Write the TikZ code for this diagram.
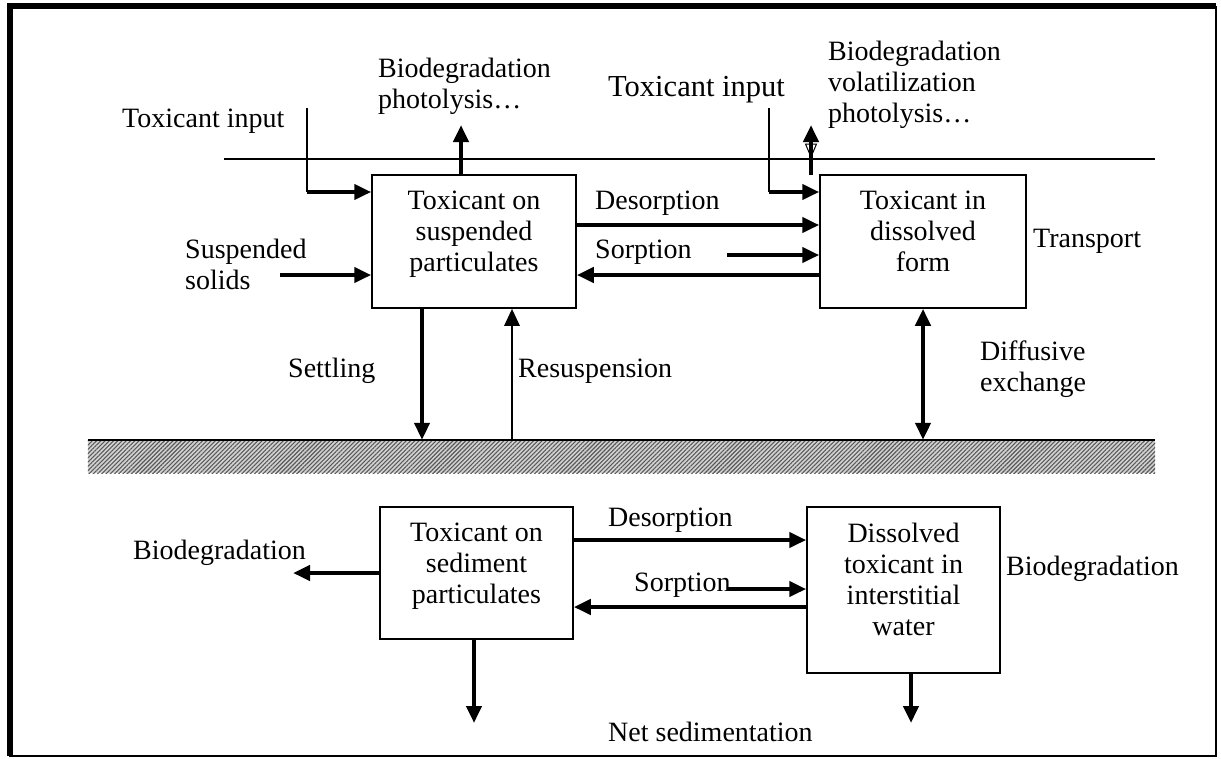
\documentclass[tikz,border=0pt]{standalone}
\usepackage{fontspec}
\setmainfont{Liberation Serif}
\usetikzlibrary{arrows.meta,patterns.meta}
\begin{document}
\begin{tikzpicture}[x=1pt,y=-1pt,
  lbl/.style={font=\fontsize{28}{31}\selectfont, inner sep=0pt},
  biglbl/.style={font=\fontsize{30.5}{34}\selectfont, inner sep=0pt},
  boxtext/.style={lbl, align=center, anchor=north},
  mlbl/.style={lbl, align=left, anchor=north west},
  box/.style={draw, line width=1.5pt, inner sep=0pt},
  thk/.style={line width=4.5pt, -{Triangle[length=17pt,width=15pt]}},
  med/.style={line width=2.8pt, -{Triangle[length=17pt,width=15pt]}},
  dbl/.style={line width=4.5pt, {Triangle[length=17pt,width=15pt]}-{Triangle[length=17pt,width=15pt]}},
  thinln/.style={line width=1.6pt}]
\useasboundingbox (0,0) rectangle (1221,758);

% frame
\draw[line width=1.6pt] (1216,6) -- (1216,756) -- (9,756);
\draw[line width=6pt] (9.5,756) -- (9.5,6) -- (1216,6);

% water surface
\draw[thinln] (224,159) -- (1155,159);

% sediment band
\node[minimum width=1067pt, minimum height=33pt, inner sep=0pt] (sed) at (621.5,456.5) {};
\fill[gray!35] (sed.north west) rectangle (sed.south east);
\fill[pattern={Lines[angle=45,distance=3pt,line width=1.1pt]}, pattern color=black!65] (sed.north west) rectangle (sed.south east);
\draw[thinln] (sed.north west) -- (sed.north east);

% boxes
\node[box, minimum width=204pt, minimum height=133pt] (b1) at (474,241.5) {};
\node[box, minimum width=206pt, minimum height=133pt] (b2) at (923,241.5) {};
\node[box, minimum width=193pt, minimum height=132pt] (b3) at (476.5,573) {};
\node[box, minimum width=193pt, minimum height=166pt] (b4) at (903.5,590) {};

\node[boxtext] (t1) at (474,191) {Toxicant on\\suspended\\particulates};
\node[boxtext] (t2) at (923,191) {Toxicant in\\dissolved\\form};
\node[boxtext] (t3) at (476.5,523) {Toxicant on\\sediment\\particulates};
\node[boxtext] (t4) at (903.5,523) {Dissolved\\toxicant in\\interstitial\\water};

% labels
\node[lbl, anchor=base west] (lTinL) at (122,127) {Toxicant input};
\node[mlbl] (lBio1) at (378,58) {Biodegradation\\photolysis…};
\node[biglbl, anchor=base west] (lTinR) at (608,96) {Toxicant input};
\node[mlbl] (lBio2) at (828,41) {Biodegradation\\volatilization\\photolysis…};
\node[lbl, anchor=base west] (lDes1) at (595,209) {Desorption};
\node[lbl, anchor=base west] (lSor1) at (595,258) {Sorption};
\node[mlbl] (lSus) at (185,239) {Suspended\\solids};
\node[lbl, anchor=base west] (lSet) at (288,377) {Settling};
\node[lbl, anchor=base west] (lRes) at (518,377) {Resuspension};
\node[mlbl] (lDif) at (980,341) {Diffusive\\exchange};
\node[lbl, anchor=base west] (lTra) at (1033,247) {Transport};
\node[lbl, anchor=base west] (lBio3) at (133,559) {Biodegradation};
\node[lbl, anchor=base west] (lDes2) at (608,526) {Desorption};
\node[lbl, anchor=base west] (lSor2) at (634,591) {Sorption};
\node[lbl, anchor=base west] (lBio4) at (1006,575) {Biodegradation};
\node[lbl, anchor=base west] (lNet) at (608,741) {Net sedimentation};

% coordinates for free ends
\coordinate (tinL) at (307,108);
\coordinate (tinLb) at (307,192);
\coordinate (tinR) at (769,108);
\coordinate (tinRb) at (769,192);
\coordinate (bp) at (461,125);
\coordinate (vb) at (811,175);
\coordinate (vt) at (811,125);
\coordinate (dsy) at (700,225);
\coordinate (ss) at (727,255);
\coordinate (sry) at (700,275);
\coordinate (sus) at (280,275);
\coordinate (setx) at (422,440);
\coordinate (resx) at (512,440);
\coordinate (bdl) at (293,573);
\coordinate (d2) at (700,540);
\coordinate (s2) at (728,589);
\coordinate (r2) at (700,607);
\coordinate (ns1) at (474,723);
\coordinate (ns2) at (911,723);

% top compartment connectors
\draw[thinln] (tinL) -- (tinLb);
\draw[thk] (tinLb) -- (b1.west |- tinLb);
\draw[thinln] (tinR) -- (tinRb);
\draw[thk] (tinRb) -- (b2.west |- tinRb);
\draw[thk] (b1.north -| bp) -- (bp);
\draw[thk] (vb) -- (vt);
\draw[line width=1pt] (805.5,144) -- (816.5,144) -- (811,157) -- cycle;
\draw[thk] (b1.east |- dsy) -- (b2.west |- dsy);
\draw[thk] (ss) -- (b2.west |- ss);
\draw[thk] (b2.west |- sry) -- (b1.east |- sry);
\draw[thk] (sus) -- (b1.west |- sus);
\draw[thk] (b1.south -| setx) -- (sed.north -| setx);
\draw[med] (sed.north -| resx) -- (b1.south -| resx);
\draw[dbl] (b2.south) -- (sed.north -| b2.south);

% sediment compartment connectors
\draw[thk] (b3.west) -- (bdl);
\draw[thk] (b3.east |- d2) -- (b4.west |- d2);
\draw[thk] (s2) -- (b4.west |- s2);
\draw[thk] (b4.west |- r2) -- (b3.east |- r2);
\draw[thk] (b3.south -| ns1) -- (ns1);
\draw[thk] (b4.south -| ns2) -- (ns2);
\end{tikzpicture}
\end{document}
